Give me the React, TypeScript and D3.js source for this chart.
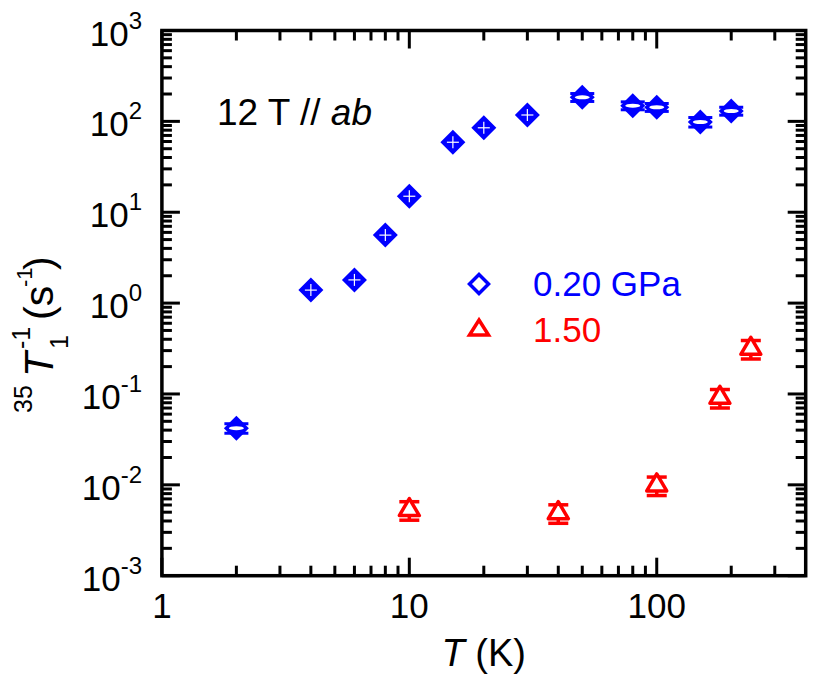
import React from "react";
import * as d3 from "d3";

const W = 828;
const H = 682;

// 0.20 GPa series
const blueT = [2, 4, 6, 8, 10, 15, 20, 30, 50, 80, 100, 150, 200];
const blueRate = [0.042, 1.39, 1.8, 5.6, 15.0, 58.9, 85, 117.5, 184, 149, 143, 98.4, 130];
const blueErr = [0.12, 0, 0, 0, 0, 0, 0, 0, 0.1, 0.1, 0.1, 0.12, 0.1];

// 1.50 GPa series
const redT = [10, 40, 100, 180, 240];
const redRate = [0.0053, 0.0049, 0.0099, 0.091, 0.315];
const redErr = [0.23, 0.23, 0.23, 0.23, 0.23];

const xTickValues = [1, 10, 100];
const xTickLabels = ["1", "10", "100"];
const yTickValues = [1e3, 1e2, 1e1, 1e0, 1e-1, 1e-2, 1e-3];
const yTickExponents = ["3", "2", "1", "0", "-1", "-2", "-3"];
const legendLabels = ["0.20 GPa", "1.50"];
const annotationText = "12 T // ";
const annotationItalic = "ab";

const BLUE = "#0000ff";
const RED = "#ff0000";
const FONT = "'Liberation Sans', Arial, Helvetica, sans-serif";

const L = 161.9, R = 805.7, T = 30.5, B = 575.7;
const MAJ = 18, MIN = 10, AXW = 3.5;

export default function App() {
  const x = d3.scaleLog().domain([1, 400]).range([L, R]);
  const y = d3.scaleLog().domain([1e-3, 1e3]).range([B, T]);

  const xMinor: number[] = [];
  [1, 10, 100].forEach((d) => {
    for (let k = 2; k <= 9; k++) {
      const v = k * d;
      if (v < 400) xMinor.push(v);
    }
  });
  const yMinor: number[] = [];
  [1e-3, 1e-2, 1e-1, 1, 10, 100].forEach((d) => {
    for (let k = 2; k <= 9; k++) yMinor.push(k * d);
  });

  const diamond = (cx: number, cy: number, r: number) =>
    `M${cx},${cy - r}L${cx + r},${cy}L${cx},${cy + r}L${cx - r},${cy}Z`;
  const triangle = (cx: number, cy: number, hw: number, h: number) =>
    `M${cx},${cy - (2 * h) / 3}L${cx + hw},${cy + h / 3}L${cx - hw},${cy + h / 3}Z`;

  return (
    <svg
      width={W}
      height={H}
      style={{ position: "absolute", left: 0, top: 0, background: "#fff" }}
      fontFamily={FONT}
    >
      <rect x={0} y={0} width={W} height={H} fill="#fff" />

      {/* ticks */}
      <g stroke="#000" strokeWidth={3}>
        {xTickValues.map((v) => (
          <g key={"xM" + v}>
            <line x1={x(v)} x2={x(v)} y1={B} y2={B - MAJ} />
            <line x1={x(v)} x2={x(v)} y1={T} y2={T + MAJ} />
          </g>
        ))}
        {xMinor.map((v) => (
          <g key={"xm" + v}>
            <line x1={x(v)} x2={x(v)} y1={B} y2={B - MIN} />
            <line x1={x(v)} x2={x(v)} y1={T} y2={T + MIN} />
          </g>
        ))}
        {yTickValues.map((v) => (
          <g key={"yM" + v}>
            <line x1={L} x2={L + MAJ} y1={y(v)} y2={y(v)} />
            <line x1={R} x2={R - MAJ} y1={y(v)} y2={y(v)} />
          </g>
        ))}
        {yMinor.map((v) => (
          <g key={"ym" + v}>
            <line x1={L} x2={L + MIN} y1={y(v)} y2={y(v)} />
            <line x1={R} x2={R - MIN} y1={y(v)} y2={y(v)} />
          </g>
        ))}
      </g>
      <rect x={L} y={T} width={R - L} height={B - T} fill="none" stroke="#000" strokeWidth={AXW} />

      {/* tick labels */}
      {xTickValues.map((v, i) => (
        <text key={"xl" + v} x={x(v)} y={618} fontSize={35} textAnchor="middle">
          {xTickLabels[i]}
        </text>
      ))}
      {yTickValues.map((v, i) => (
        <text key={"yl" + v} x={142} y={y(v) + 15} fontSize={35} textAnchor="end">
          10
          <tspan dy={-17} fontSize={24}>
            {yTickExponents[i]}
          </tspan>
        </text>
      ))}

      {/* axis titles */}
      <text x={(L + R) / 2} y={666} fontSize={38} textAnchor="middle">
        <tspan fontStyle="italic">T</tspan> (K)
      </text>
      <g transform="rotate(-90)">
        <text x={-413} y={32} fontSize={25}>35</text>
        <text x={-377} y={53} fontSize={41} fontStyle="italic">T</text>
        <text x={-349} y={68} fontSize={25}>1</text>
        <text x={-349} y={30} fontSize={25}>-1</text>
        <text x={-320} y={53} fontSize={41}>(s</text>
        <text x={-287} y={32} fontSize={22}>-1</text>
        <text x={-270} y={53} fontSize={41}>)</text>
      </g>

      {/* annotation */}
      <text x={217} y={125} fontSize={37}>
        {annotationText}
        <tspan fontStyle="italic">{annotationItalic}</tspan>
      </text>

      {/* blue points */}
      {blueT.map((t, i) => {
        const cx = x(t);
        const cy = y(blueRate[i]);
        const e = blueErr[i];
        if (e > 0) {
          const yu = y(blueRate[i] * (1 + e));
          const yl = y(blueRate[i] * (1 - e));
          return (
            <g key={"b" + t}>
              <path d={diamond(cx, cy, 12.5)} fill={BLUE} />
              <line x1={cx - 12} x2={cx + 12} y1={yu} y2={yu} stroke={BLUE} strokeWidth={3} />
              <line x1={cx - 12} x2={cx + 12} y1={yl} y2={yl} stroke={BLUE} strokeWidth={3} />
              <ellipse cx={cx} cy={cy} rx={7.5} ry={2} fill="#fff" />
            </g>
          );
        }
        return (
          <g key={"b" + t}>
            <path d={diamond(cx, cy, 12.5)} fill={BLUE} />
            <line x1={cx - 6} x2={cx + 6} y1={cy} y2={cy} stroke="#fff" strokeWidth={1.2} />
            <line x1={cx} x2={cx} y1={cy - 6} y2={cy + 6} stroke="#fff" strokeWidth={1.2} />
          </g>
        );
      })}

      {/* red points */}
      {redT.map((t, i) => {
        const cx = x(t);
        const cy = y(redRate[i]);
        const yu = y(redRate[i] * (1 + redErr[i]));
        const yl = y(redRate[i] * (1 - redErr[i]));
        return (
          <g key={"r" + t} stroke={RED} strokeWidth={3.5} fill="none">
            <line x1={cx} x2={cx} y1={yu} y2={yl} />
            <line x1={cx - 10} x2={cx + 10} y1={yu} y2={yu} />
            <line x1={cx - 10} x2={cx + 10} y1={yl} y2={yl} />
            <path d={triangle(cx, cy, 10, 17)} fill="#fff" strokeLinejoin="round" />
          </g>
        );
      })}

      {/* legend */}
      <path d={diamond(479, 284, 9.5)} fill="none" stroke={BLUE} strokeWidth={3.5} />
      <path d={triangle(479, 330, 9.5, 15)} fill="none" stroke={RED} strokeWidth={3.5} />
      <text x={533} y={296} fontSize={35} fill={BLUE}>{legendLabels[0]}</text>
      <text x={533} y={342} fontSize={35} fill={RED}>{legendLabels[1]}</text>
    </svg>
  );
}
